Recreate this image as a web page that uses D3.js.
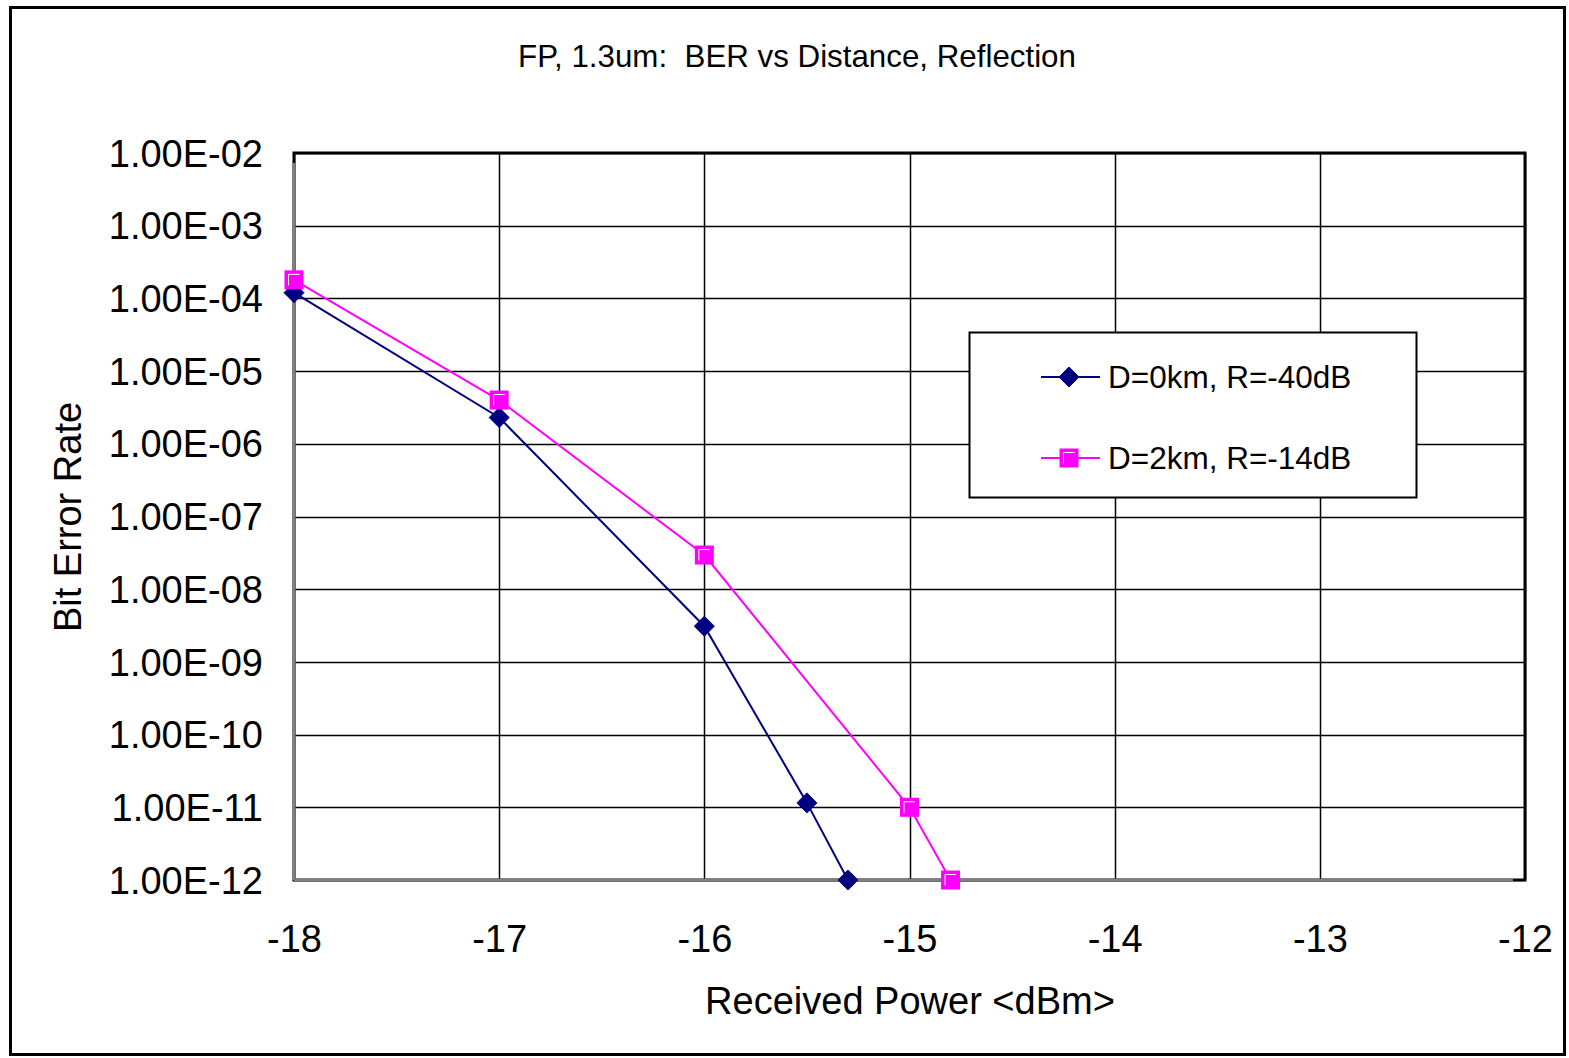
<!DOCTYPE html>
<html>
<head>
<meta charset="utf-8">
<script src="https://cdn.jsdelivr.net/npm/d3@7"></script>
<style>
  html, body { margin: 0; padding: 0; background: #fff; }
  svg { display: block; font-family: "Liberation Sans", Arial, sans-serif; }
  .pre { white-space: pre; }
</style>
</head>
<body>
<svg id="chart" width="1569" height="1058"></svg>
<script>
// Received power (dBm) and measured bit error rate for each link configuration
const seriesNames = ["D=0km, R=-40dB", "D=2km, R=-14dB"];
const power0 = [-18, -17, -16, -15.5, -15.3];
const ber0 = [1.2e-4, 2.3e-6, 3.1e-9, 1.15e-11, 1e-12];
const power2 = [-18, -17, -16, -15, -14.8];
const ber2 = [1.8e-4, 4.0e-6, 2.95e-8, 1e-11, 1e-12];
const xTicks = [-18, -17, -16, -15, -14, -13, -12];
const yTicks = [1e-2, 1e-3, 1e-4, 1e-5, 1e-6, 1e-7, 1e-8, 1e-9, 1e-10, 1e-11, 1e-12];
const yTickLabels = ["1.00E-02", "1.00E-03", "1.00E-04", "1.00E-05", "1.00E-06", "1.00E-07",
                     "1.00E-08", "1.00E-09", "1.00E-10", "1.00E-11", "1.00E-12"];

const svg = d3.select("#chart");
const plot = { left: 294, right: 1525, top: 153, bottom: 880 };

const x = d3.scaleLinear().domain([-18, -12]).range([plot.left, plot.right]);
const y = d3.scaleLog().domain([1e-12, 1e-2]).range([plot.bottom, plot.top]);

// outer frame
svg.append("rect")
  .attr("x", 10.5).attr("y", 7.5).attr("width", 1554).attr("height", 1047)
  .attr("fill", "#fff").attr("stroke", "#000").attr("stroke-width", 3);

// title
svg.append("text")
  .attr("class", "pre")
  .attr("x", 797).attr("y", 67)
  .attr("text-anchor", "middle")
  .attr("font-size", 31.3)
  .text("FP, 1.3um:  BER vs Distance, Reflection");

// grid lines
const g = svg.append("g");
g.selectAll("line.hgrid").data(yTicks).enter().append("line")
  .attr("x1", plot.left).attr("x2", plot.right)
  .attr("y1", d => Math.round(y(d)) + 0.5).attr("y2", d => Math.round(y(d)) + 0.5)
  .attr("stroke", "#000").attr("stroke-width", 1.5);
g.selectAll("line.vgrid").data(xTicks).enter().append("line")
  .attr("y1", plot.top).attr("y2", plot.bottom)
  .attr("x1", d => Math.round(x(d)) + 0.5).attr("x2", d => Math.round(x(d)) + 0.5)
  .attr("stroke", "#000").attr("stroke-width", 1.5);

// plot border: black top/right, grey axis lines left/bottom
svg.append("rect")
  .attr("x", plot.left).attr("y", plot.top)
  .attr("width", plot.right - plot.left).attr("height", plot.bottom - plot.top)
  .attr("fill", "none").attr("stroke", "#000").attr("stroke-width", 3);
svg.append("line")
  .attr("x1", plot.left).attr("x2", plot.left)
  .attr("y1", plot.top + 10).attr("y2", plot.bottom)
  .attr("stroke", "#808080").attr("stroke-width", 3);
svg.append("line")
  .attr("x1", plot.left).attr("x2", plot.right - 12)
  .attr("y1", plot.bottom).attr("y2", plot.bottom)
  .attr("stroke", "#808080").attr("stroke-width", 3);

// axes (labels only)
const xAxis = d3.axisBottom(x).tickValues(xTicks).tickSize(0).tickPadding(0)
  .tickFormat(d => d3.format("d")(d).replace("−", "-"));
svg.append("g")
  .attr("transform", `translate(0,${plot.bottom + 45})`)
  .call(xAxis)
  .call(a => a.select(".domain").remove())
  .selectAll("text")
  .attr("font-size", 38).attr("font-family", "Liberation Sans, Arial, sans-serif")
  .attr("fill", "#000").attr("dy", "0.71em");

const yAxis = d3.axisLeft(y).tickValues(yTicks).tickSize(0).tickPadding(31)
  .tickFormat((d, i) => yTickLabels[i]);
svg.append("g")
  .attr("transform", `translate(${plot.left},1)`)
  .call(yAxis)
  .call(a => a.select(".domain").remove())
  .selectAll("text")
  .attr("font-size", 38).attr("font-family", "Liberation Sans, Arial, sans-serif")
  .attr("fill", "#000");

// axis titles
svg.append("text")
  .attr("x", 910).attr("y", 1014)
  .attr("text-anchor", "middle").attr("font-size", 38)
  .text("Received Power <dBm>");
svg.append("text")
  .attr("transform", "translate(81,517) rotate(-90)")
  .attr("text-anchor", "middle").attr("font-size", 38)
  .text("Bit Error Rate");

// series
const line = d3.line().x(d => x(d[0])).y(d => y(d[1]));
const data0 = power0.map((p, i) => [p, ber0[i]]);
const data2 = power2.map((p, i) => [p, ber2[i]]);
const navy = "#000080", magenta = "#ff00ff";

svg.append("path").datum(data0).attr("d", line)
  .attr("fill", "none").attr("stroke", navy).attr("stroke-width", 2);
svg.append("path").datum(data2).attr("d", line)
  .attr("fill", "none").attr("stroke", magenta).attr("stroke-width", 2);

function diamond(sel, cx, cy) {
  const r = 10;
  sel.append("path")
    .attr("d", `M${cx},${cy - r}L${cx + r},${cy}L${cx},${cy + r}L${cx - r},${cy}Z`)
    .attr("fill", navy).attr("stroke", navy).attr("stroke-width", 1);
}
function square(sel, cx, cy) {
  const s = 8.5;
  sel.append("rect")
    .attr("x", cx - s).attr("y", cy - s).attr("width", 2 * s).attr("height", 2 * s)
    .attr("fill", magenta).attr("stroke", magenta).attr("stroke-width", 2);
  sel.append("path")
    .attr("d", `M${cx - s + 3},${cy + s - 3}V${cy - s + 3}H${cx + s - 3}`)
    .attr("fill", "none").attr("stroke", "#fff").attr("stroke-width", 1);
}

const marks = svg.append("g");
data0.forEach(d => diamond(marks, x(d[0]), y(d[1])));
data2.forEach(d => square(marks, x(d[0]), y(d[1])));

// legend
const lg = svg.append("g");
lg.append("rect")
  .attr("x", 969.5).attr("y", 332.5).attr("width", 447).attr("height", 165)
  .attr("fill", "#fff").attr("stroke", "#000").attr("stroke-width", 2);
const legendRows = [
  { name: seriesNames[0], color: navy, cy: 377, marker: diamond },
  { name: seriesNames[1], color: magenta, cy: 458, marker: square }
];
legendRows.forEach(r => {
  lg.append("line")
    .attr("x1", 1041).attr("x2", 1100).attr("y1", r.cy).attr("y2", r.cy)
    .attr("stroke", r.color).attr("stroke-width", 2);
  r.marker(lg, 1069, r.cy);
  lg.append("text")
    .attr("x", 1108).attr("y", r.cy + 11)
    .attr("font-size", 31.5).text(r.name);
});
</script>
</body>
</html>
